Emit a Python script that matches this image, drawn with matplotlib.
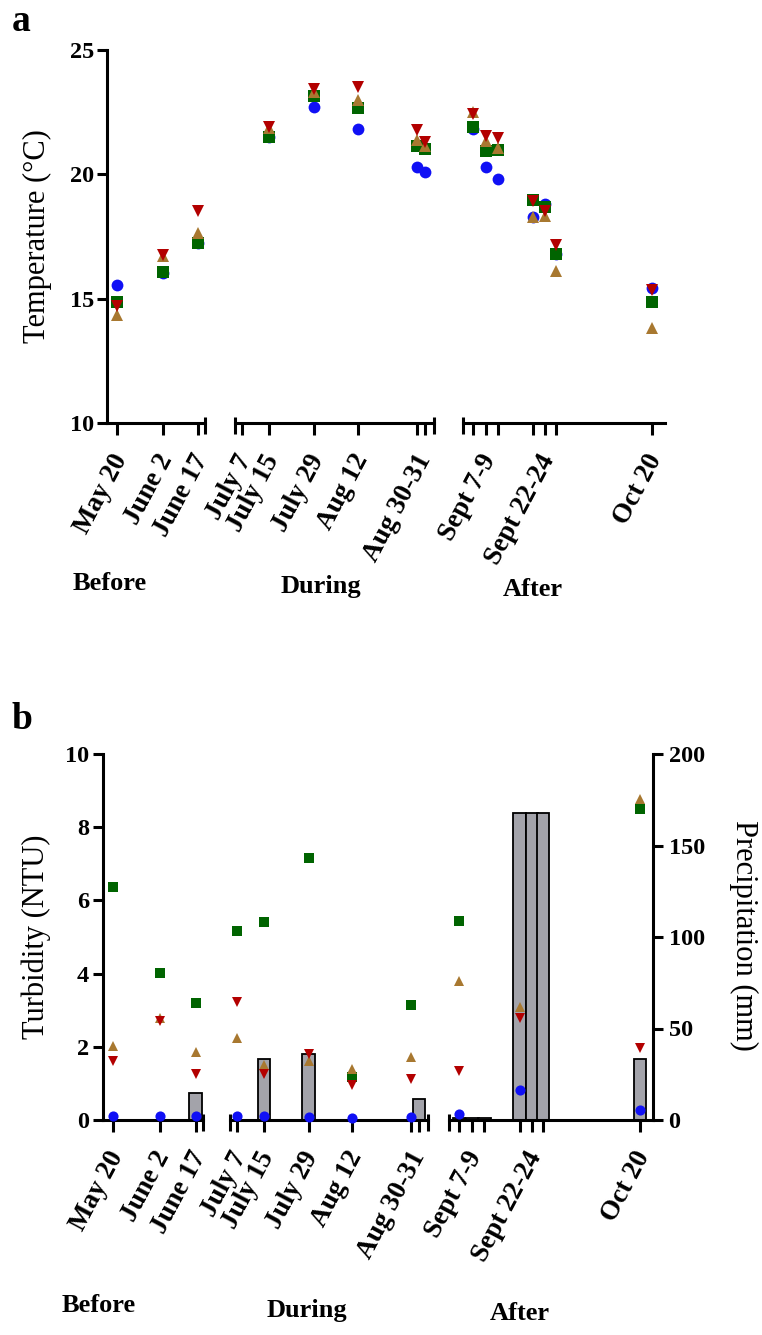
import matplotlib
matplotlib.use("Agg")
import matplotlib.pyplot as plt
import numpy as np
from matplotlib import transforms

nan = np.nan

# ---------------- data ----------------
dates = ["May 20", "June 2", "June 17", "July 7", "July 15", "July 29", "Aug 12",
         "Aug 30", "Aug 31", "Sept 7", "Sept 8", "Sept 9", "Sept 22", "Sept 23",
         "Sept 24", "Oct 20"]
# position of each sampling date along the (broken) time axis, in chart units
x_time = [10, 56, 91, 135, 162, 207, 251, 310, 318, 366, 379, 391, 426, 438, 449, 545]

label_text = ["May 20", "June 2", "June 17", "July 7", "July 15", "July 29", "Aug 12",
              "Aug 30-31", "Sept 7-9", "Sept 22-24", "Oct 20"]
label_x = [10, 56, 91, 135, 162, 207, 251, 314, 379, 438, 545]

periods = ["Before", "During", "After"]

# Temperature (°C)
temp_blue = [15.54, 16.05, 17.25, nan, 21.50, 22.71, 21.81, 20.31, 20.11, 21.81, 20.31, 19.80, 18.28, 18.82, 16.80, 15.43]
temp_green = [14.85, 16.06, 17.25, nan, 21.52, 23.16, 22.65, 21.14, 21.00, 21.90, 20.92, 20.98, 18.95, 18.69, 16.81, 14.85]
temp_brown = [14.35, 16.70, 17.65, nan, 21.85, 23.30, 22.98, 21.40, 21.15, 22.50, 21.34, 21.05, 18.29, 18.32, 16.13, 13.82]
temp_red = [14.69, 16.77, 18.52, nan, 21.90, 23.43, 23.53, 21.77, 21.30, 22.42, 21.55, 21.48, 18.92, 18.52, 17.14, 15.36]

# Turbidity (NTU)
turb_blue = [0.12, 0.12, 0.12, 0.12, 0.10, 0.08, 0.05, 0.08, nan, 0.16, nan, nan, 0.82, nan, nan, 0.27]
turb_green = [6.37, 4.03, 3.19, 5.16, 5.40, 7.17, 1.18, 3.14, nan, 5.44, nan, nan, nan, nan, nan, 8.49]
turb_brown = [2.02, 2.78, 1.87, 2.23, 1.50, 1.62, 1.40, 1.73, nan, 3.80, nan, nan, 3.10, nan, nan, 8.77]
turb_red = [1.62, 2.70, 1.26, 3.23, 1.26, 1.80, 0.95, 1.12, nan, 1.35, nan, nan, 2.78, nan, nan, 1.98]

# Precipitation (mm)
precip = [nan, nan, 15.0, nan, 33.3, 35.9, nan, nan, 11.5, 1.0, 1.0, 1.0, 168.0, 168.0, 168.0, 33.2]

# ---------------- style ----------------
plt.rcParams['font.family'] = ['Liberation Serif', 'DejaVu Serif']
W, H = 762, 1335
fig = plt.figure(figsize=(W / 100, H / 100), dpi=100)

LW = 2.2
C_BLUE, C_GREEN, C_BROWN, C_RED = '#1010f5', '#006400', '#a87830', '#b30000'
TICK_FS = 17.5
XLAB_FS = 19.5
XLAB_ROT = 62

seg_lims = [(0, 98), (128, 327), (356, 558)]
bar_w = 12.5


def rect(x0, x1, ytop, ybot):
    return [x0 / W, 1 - ybot / H, (x1 - x0) / W, (ybot - ytop) / H]


def style_xaxis(ax, lim, ax_h_px, first, last_cap):
    lo, hi = lim
    ax.set_xlim(lo, hi)
    for s in ['top', 'left', 'right']:
        ax.spines[s].set_visible(False)
    ax.spines['bottom'].set_linewidth(LW)
    xs = [x for x in x_time if lo <= x <= hi]
    ax.set_xticks(xs)
    ax.set_xticklabels([])
    ax.tick_params(axis='x', which='major', length=8.6, width=LW, direction='out')
    # labels
    trans = transforms.blended_transform_factory(ax.transData, ax.transAxes)
    off = transforms.ScaledTranslation(-7 / 100, -27 / 100, fig.dpi_scale_trans)
    for t, x in zip(label_text, label_x):
        if lo <= x <= hi:
            ax.text(x, 0, t, transform=trans + off, rotation=XLAB_ROT, ha='right', va='top',
                    rotation_mode='anchor', fontsize=XLAB_FS, fontweight='bold')
    # break caps
    y0, y1 = -10.5 / ax_h_px, 6 / ax_h_px
    edges = []
    if not first:
        edges.append(lo)
    if last_cap:
        edges.append(hi)
    for e in edges:
        ax.plot([e, e], [y0, y1], transform=trans, color='black', lw=LW,
                clip_on=False, solid_capstyle='butt')


def scatter_series(ax, lim, series, ms):
    lo, hi = lim
    xt = np.array(x_time, dtype=float)
    m = (xt >= lo) & (xt <= hi)
    for vals, mk, col in series:
        v = np.array(vals, dtype=float)
        ax.plot(xt[m], v[m], linestyle='none', marker=mk, ms=ms, color=col,
                markeredgewidth=0, clip_on=False, zorder=5)


# ---------------- panel a ----------------
a_px = [(107, 205), (235, 434), (463, 665)]
a_top, a_bot = 50, 423
series_a = [(temp_blue, 'o', C_BLUE), (temp_green, 's', C_GREEN),
            (temp_brown, '^', C_BROWN), (temp_red, 'v', C_RED)]
for i, (lim, px) in enumerate(zip(seg_lims, a_px)):
    ax = fig.add_axes(rect(px[0], px[1], a_top, a_bot))
    ax.set_ylim(10, 25)
    style_xaxis(ax, lim, a_bot - a_top, first=(i == 0), last_cap=(i < 2))
    if i == 0:
        ax.spines['left'].set_visible(True)
        ax.spines['left'].set_linewidth(LW)
        ax.set_yticks([10, 15, 20, 25])
        ax.tick_params(axis='y', length=7.2, width=LW, pad=2, labelsize=TICK_FS)
        for lb in ax.get_yticklabels():
            lb.set_fontweight('bold')
    else:
        ax.set_yticks([])
    scatter_series(ax, lim, series_a, 8.5)

fig.text(37 / W, 1 - 236 / H, "Temperature (°C)", rotation=90, ha='center', va='center',
         fontsize=22)
fig.text(12 / W, 1 - 31 / H, "a", fontsize=27, fontweight='bold', ha='left', va='baseline')
for t, (cx, cy) in zip(periods, [(110, 583), (321, 587), (533, 590)]):
    fig.text(cx / W, 1 - cy / H, t, fontsize=19, fontweight='bold', ha='center', va='center')

# ---------------- panel b ----------------
b_px = [(103, 203), (230, 428), (449, 653)]
b_top, b_bot = 754, 1120
series_b = [(turb_blue, 'o', C_BLUE), (turb_green, 's', C_GREEN),
            (turb_brown, '^', C_BROWN), (turb_red, 'v', C_RED)]
for i, (lim, px) in enumerate(zip(seg_lims, b_px)):
    ax_p = fig.add_axes(rect(px[0], px[1], b_top, b_bot))
    ax_p.set_ylim(0, 200)
    style_xaxis(ax_p, lim, b_bot - b_top, first=(i == 0), last_cap=(i < 2))
    # precipitation bars
    xt = np.array(x_time, dtype=float)
    pr = np.array(precip, dtype=float)
    m = (xt >= lim[0]) & (xt <= lim[1]) & ~np.isnan(pr)
    ax_p.bar(xt[m], pr[m], width=bar_w, color='#a3a3aa', edgecolor='black',
             linewidth=1.3, zorder=1)
    ax_t = ax_p.twinx()
    ax_t.set_ylim(0, 10)
    for s in ['top', 'left', 'right', 'bottom']:
        ax_t.spines[s].set_visible(False)
    if i == 0:
        ax_t.yaxis.tick_left()
        ax_t.spines['left'].set_visible(True)
        ax_t.spines['left'].set_linewidth(LW)
        ax_t.set_yticks([0, 2, 4, 6, 8, 10])
        ax_t.tick_params(axis='y', length=7.2, width=LW, pad=3, labelsize=TICK_FS)
        for lb in ax_t.get_yticklabels():
            lb.set_fontweight('bold')
    else:
        ax_t.set_yticks([])
    if i == 2:
        ax_p.spines['right'].set_visible(True)
        ax_p.spines['right'].set_linewidth(LW)
        ax_p.yaxis.tick_right()
        ax_p.set_yticks([0, 50, 100, 150, 200])
        ax_p.tick_params(axis='y', length=7.2, width=LW, pad=4, labelsize=TICK_FS)
        for lb in ax_p.get_yticklabels():
            lb.set_fontweight('bold')
    else:
        ax_p.set_yticks([])
    scatter_series(ax_t, lim, series_b, 7.3)

fig.text(36 / W, 1 - 937 / H, "Turbidity (NTU)", rotation=90, ha='center', va='center',
         fontsize=22)
fig.text(744 / W, 1 - 935 / H, "Precipitation (mm)", rotation=270, ha='center', va='center',
         fontsize=22)
fig.text(12 / W, 1 - 729 / H, "b", fontsize=27, fontweight='bold', ha='left', va='baseline')
for t, (cx, cy) in zip(periods, [(99, 1306), (307, 1310), (520, 1313)]):
    fig.text(cx / W, 1 - cy / H, t, fontsize=19, fontweight='bold', ha='center', va='center')

fig.savefig("out.png", dpi=100)
